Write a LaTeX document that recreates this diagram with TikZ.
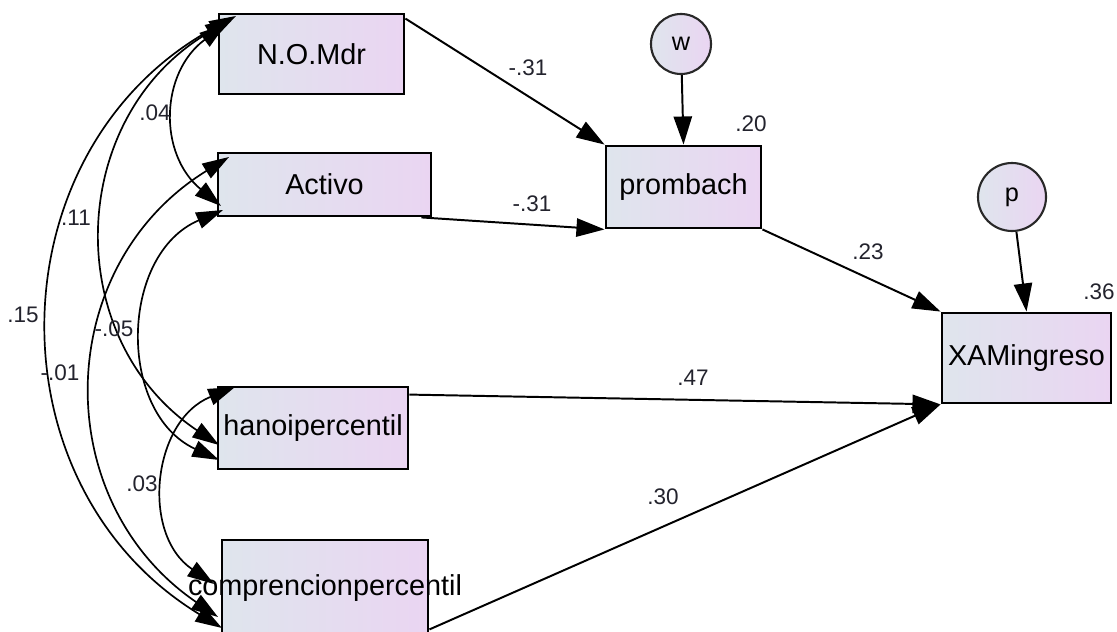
\documentclass[tikz,border=0pt]{standalone}
\usepackage{fontspec}
\setmainfont{Liberation Sans}
\usetikzlibrary{arrows.meta}

\definecolor{boxleft}{RGB}{223,229,237}
\definecolor{boxright}{RGB}{234,213,242}
\definecolor{circline}{RGB}{40,40,40}
\definecolor{labelcol}{RGB}{35,35,45}

\tikzset{
  varbox/.style={draw=black, line width=2pt, left color=boxleft, right color=boxright,
                 inner sep=0pt, font=\fontsize{20.5}{24}\selectfont},
  errcirc/.style={circle, draw=circline, line width=1.5pt, left color=boxleft, right color=boxright,
                  inner sep=0pt, font=\fontsize{18}{20}\selectfont},
  coef/.style={font=\fontsize{16}{18}\selectfont, text=labelcol, inner sep=0pt},
  regr/.style={line width=1.4pt, -{Triangle[length=20pt,width=13pt]}},
  cov/.style={line width=1.2pt, {Triangle[length=19pt,width=12pt]}-{Triangle[length=19pt,width=12pt]},
              bend right=#1, looseness=1.15},
}

\begin{document}
\begin{tikzpicture}[x=0.025cm, y=-0.025cm]
\path[use as bounding box, clip] (0,0) rectangle (1117,631);

% observed variables
\node[varbox, minimum width=4.625cm, minimum height=2cm]    (N) at (311.5,54)  {N.O.Mdr};
\node[varbox, minimum width=5.325cm, minimum height=1.575cm] (A) at (324.5,184.5) {Activo};
\node[varbox, minimum width=4.75cm,  minimum height=2.05cm] (H) at (313,428)   {hanoipercentil};
\node[varbox, minimum width=5.15cm,  minimum height=2.4cm]  (C) at (325,588)   {\makebox[0pt]{comprencionpercentil}};
\node[varbox, minimum width=3.875cm, minimum height=2.05cm] (P) at (683.5,187) {prombach};
\node[varbox, minimum width=4.225cm, minimum height=2.25cm] (X) at (1026.5,358) {XAMingreso};

% error terms
\node[errcirc, minimum size=1.5cm] (w) at (681,44)  {w};
\node[errcirc, minimum size=1.7cm] (p) at (1012,197) {p};

% regression paths
\draw[regr] ([yshift=-0.15cm]N.north east) -- (P.north west);
\draw[regr] ([xshift=-0.275cm]A.south east) -- (P.south west);
\draw[regr] (w) -- (P.north);
\draw[regr] (P.south east) -- (X.north west);
\draw[regr] (p) -- (X.north);
\draw[regr] ([yshift=-0.225cm]H.north east) -- (X.south west);
\draw[regr] ([yshift=0.2cm]C.south east) -- (X.south west);

% attachment points of the covariance arcs
\coordinate (nA) at (226,24);
\coordinate (nH) at (232,19);
\coordinate (nC) at (236,16);
\coordinate (aN) at (221,206);
\coordinate (aH) at (223,210);
\coordinate (aC) at (229,157);
\coordinate (hC) at (235,387);
\coordinate (hN) at (219,445);
\coordinate (hA) at (219,460);
\coordinate (cH) at (214,584);
\coordinate (cA) at (218,617);
\coordinate (cN) at (222,628);

% covariances among the exogenous variables
\draw[cov=52] (nA) to (aN);
\draw[cov=58] (nH) to (hN);
\draw[cov=60] (nC) to (cN);
\draw[cov=66] (aH) to (hA);
\draw[cov=57] (aC) to (cA);
\draw[cov=62] (hC) to (cH);

% coefficients
\node[coef] (l1) at (528,68)   {-.31};
\node[coef] (l2) at (532,204)  {-.31};
\node[coef] (l3) at (751,124)  {.20};
\node[coef] (l4) at (868,252)  {.23};
\node[coef] (l5) at (1099,292) {.36};
\node[coef] (l6) at (693,378)  {.47};
\node[coef] (l7) at (663,497)  {.30};
\node[coef] (l8) at (155,113)  {.04};
\node[coef] (l9) at (76,218)   {.11};
\node[coef] (l10) at (23,315)  {.15};
\node[coef] (l11) at (114,329) {-.05};
\node[coef] (l12) at (60,373)  {-.01};
\node[coef] (l13) at (142,484) {.03};
\end{tikzpicture}
\end{document}
